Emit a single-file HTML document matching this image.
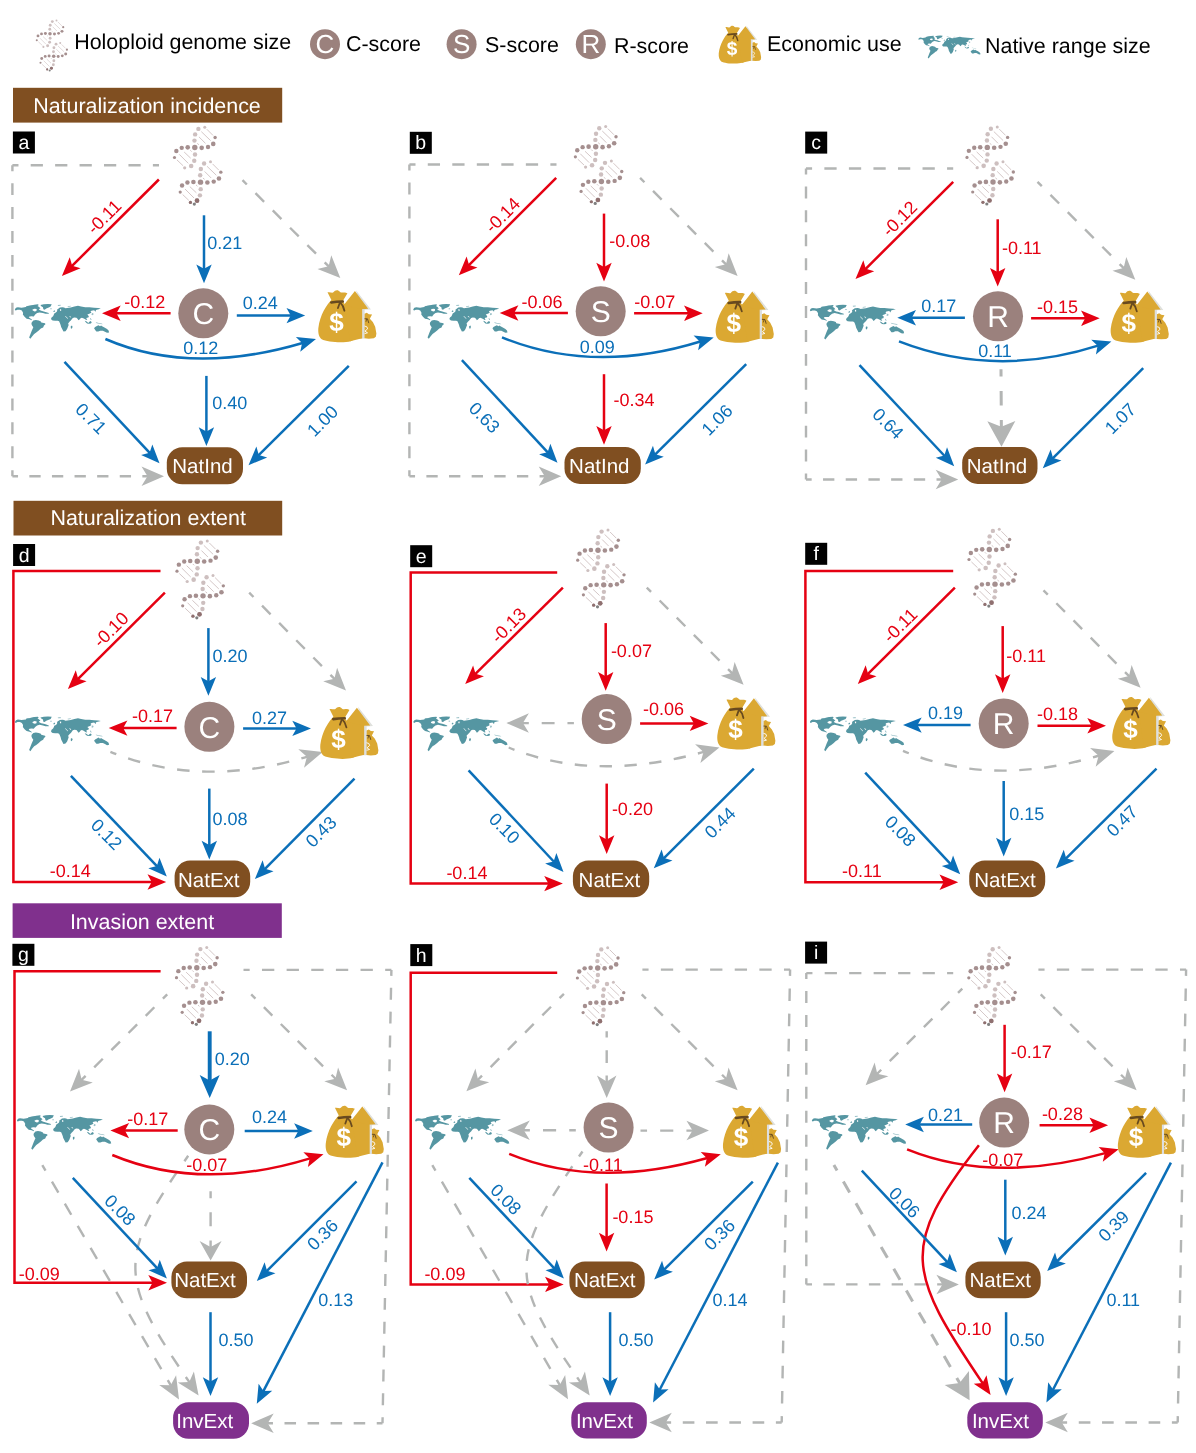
<!DOCTYPE html>
<html><head><meta charset="utf-8"><title>SEM path diagrams</title>
<style>
html,body{margin:0;padding:0;background:#fff;}
body{width:1196px;height:1453px;overflow:hidden;}
svg{display:block;font-family:'Liberation Sans', sans-serif;will-change:transform;opacity:0.9999;}
text{text-rendering:geometricPrecision;}
</style></head><body>
<svg width="1196" height="1453" viewBox="0 0 1196 1453">
<defs><g id="dnaunit"><line x1="12.05" y1="-18.24" x2="18.24" y2="-12.05" stroke="#c9b9b9" stroke-width="0.8"/><line x1="6.54" y1="-15.83" x2="15.83" y2="-6.88" stroke="#c9b9b9" stroke-width="0.8"/><line x1="4.13" y1="-10.67" x2="10.67" y2="-4.13" stroke="#c9b9b9" stroke-width="0.8"/><line x1="2.41" y1="-4.13" x2="4.13" y2="-2.75" stroke="#c9b9b9" stroke-width="0.8"/><line x1="-4.48" y1="2.75" x2="-3.1" y2="4.13" stroke="#c9b9b9" stroke-width="0.8"/><line x1="-10.67" y1="4.48" x2="-4.13" y2="10.67" stroke="#c9b9b9" stroke-width="0.8"/><line x1="-15.49" y1="6.88" x2="-6.54" y2="15.83" stroke="#c9b9b9" stroke-width="0.8"/><line x1="-17.9" y1="12.39" x2="-11.7" y2="18.24" stroke="#c9b9b9" stroke-width="0.8"/><circle cx="9.98" cy="-20.31" r="1.5" fill="#cdbfbf"/><circle cx="3.58" cy="-18.59" r="2.2" fill="#cdbfbf"/><circle cx="0.34" cy="-13.08" r="2.2" fill="#cdbfbf"/><circle cx="-0.34" cy="-6.88" r="2.2" fill="#cdbfbf"/><circle cx="0" cy="0" r="2.7" fill="#a58f8f"/><circle cx="-7.09" cy="-0.14" r="2.3" fill="#a58f8f"/><circle cx="-13.08" cy="0.34" r="2.2" fill="#a58f8f"/><circle cx="-18.45" cy="3.44" r="2.2" fill="#a58f8f"/><circle cx="-20.31" cy="9.98" r="1.6" fill="#a58f8f"/><circle cx="6.88" cy="0.34" r="2.3" fill="#a58f8f"/><circle cx="13.22" cy="-0.55" r="2.2" fill="#a58f8f"/><circle cx="18.45" cy="-3.58" r="2.3" fill="#a58f8f"/><circle cx="20.31" cy="-9.98" r="1.7" fill="#a58f8f"/><circle cx="0.21" cy="7.02" r="2.2" fill="#cdbfbf"/><circle cx="-0.55" cy="13.22" r="2.2" fill="#cdbfbf"/><circle cx="-3.65" cy="18.45" r="2.3" fill="#cdbfbf"/><circle cx="-10.12" cy="20.31" r="1.6" fill="#cdbfbf"/></g><g id="dna"><use href="#dnaunit"/><use href="#dnaunit" x="5.71" y="34.63"/><circle cx="2.27" cy="53.15" r="2.3" fill="#8f7070"/><circle cx="-4.34" cy="54.94" r="1.6" fill="#8f7070"/><circle cx="-0.48" cy="56.59" r="1.6" fill="#808080"/></g><g id="map"><g fill="#5596a2"><path d="M-0.07 5.99L0.97 4.52L2.85 3.9L6.62 4.4L10.8 3.69L11.63 2.85L14.56 2.43L19.16 1.39L22.92 0.97L23.76 1.81L22.5 2.64L24.17 3.69L25.43 5.15L23.76 5.78L24.59 6.82L26.26 7.45L28.77 8.08L31.28 8.91L33.79 9.75L33.79 10.5L30.44 10.5L27.94 9.75L24.59 9.12L22.08 9.75L20.2 11.21L18.74 13.09L16.65 12.89L14.56 13.09L13.72 13.93L15.39 15.18L16.86 16.23L16.65 16.86L14.56 16.02L11.63 15.39L9.54 13.51L7.87 11.21L8.08 9.33L6.82 7.24L4.94 6.41L2.43 6.41L0.76 7.24L-0.07 6.61Z"/><path d="M25.43 1.81L28.77 0.97L32.95 0.68L36.72 0.97L35.67 3.27L33.79 4.11L31.28 5.15L29.61 6.41L28.35 5.99L27.94 3.9L26.26 2.85Z"/><path d="M16.65 19.16L18.32 17.28L20.83 16.77L23.76 17.28L25.85 18.11L26.26 19.16L30.03 19.99L30.44 21.04L28.98 22.29L28.15 24.17L25.85 25.22L23.76 27.31L21.25 29.19L19.16 30.65L17.07 33.16L15.39 35.46L14.14 34.21L15.39 31.07L16.65 27.73L18.32 23.96L17.07 22.29L16.44 20.62Z"/><path d="M38.11 8.28L39.41 6.88L40.18 7.92L39.15 8.8Z"/><path d="M36.04 15.44L36.56 14.14L38.11 12.84L38.89 11.29L39.25 10.15L40.44 9.47L41.74 8.44L42.26 7.4L42 6.36L43.29 5.33L44.85 4.29L47.44 3.93L49 4.29L50.55 5.07L52.11 4.81L55.74 4.29L59.36 3.25L62.99 2.48L66.1 3.25L70.25 3.93L74.4 4.03L79.06 4.45L83.21 4.81L85.8 5.22L83.73 5.85L81.66 6.36L80.88 6.88L80.62 8.44L79.69 7.4L79.06 6.88L76.47 7.4L75.44 8.18L76.47 9.22L74.92 10.25L73.62 10.77L72.33 11.29L73.88 12.84L73.36 14.14L71.81 14.4L71.29 15.44L72.33 16.21L71.29 16.73L69.73 15.7L68.18 14.92L66.88 14.4L65.59 14.92L64.81 15.95L63.51 16.99L62.48 15.44L61.44 14.4L59.36 14.14L57.81 14.66L56.77 15.95L55.84 17.2L54.7 18.29L53.14 20.1L53.66 21.66L52.88 23.73L52.11 25.8L50.55 27.88L48.48 28.29L47.44 26.32L46.15 23.73L45.63 21.66L44.85 19.58L44.07 18.03L42.78 17.51L40.18 17.51L37.59 17.25L36.3 16.21Z"/><path d="M55.74 22.95L57.03 22.18L57.55 23.73L56.77 25.54L55.84 25.03Z"/><path d="M69.73 17.51L71.29 18.03L73.36 19.58L74.4 18.55L75.69 17.77L76.73 19.06L75.95 20.1L73.88 20.36L72.07 20.1L70.77 19.06Z"/><path d="M79.06 25.03L80.1 23.73L81.92 22.69L83.47 21.92L85.03 22.95L86.06 22.18L87.1 22.95L89.43 24.25L92.02 25.8L93.58 27.1L94.1 29.17L92.02 29.43L89.95 28.4L87.88 27.36L85.29 27.36L83.21 28.14L81.4 28.14L80.36 26.84Z"/><path d="M75.18 14.66L75.95 15.18L76.47 16.73L75.69 16.47Z"/></g><g fill="#5596a2" opacity="0.6"><path d="M35.25 4.94L36.72 4.94L36.72 5.99L35.25 5.99Z"/><path d="M42.78 1.81L45.7 1.39L45.7 2.43L42.99 2.64Z"/><path d="M52.63 2.99L55.74 2.48L55.74 3.25L52.88 3.77Z"/><path d="M76.99 9.73L78.29 9.99L78.55 11.29L77.25 12.07L76.47 11.55Z"/><path d="M80.62 18.81L83.73 19.58L86.84 20.1L87.88 20.88L85.29 20.62L81.66 19.84Z"/><path d="M11.21 3.06L14.56 2.23L18.74 1.6L20.41 2.02L19.58 3.69L16.23 4.11L11.63 3.69Z"/></g><g fill="#fff"><path d="M17.48 6.2L19.58 5.36L21.67 5.78L21.46 7.66L19.78 8.08L17.69 7.24Z"/><path d="M50.03 12.84L50.55 12.58L53.14 15.18L52.63 15.54Z"/><path d="M54.18 12.84L54.96 12.58L56.25 13.88L55.74 14.3Z"/><path d="M44.85 6L46.15 5.85L46.15 7.66L45.11 7.56Z"/></g></g><g id="money"><path d="M37.99 0.13L52.98 19.4L46.49 19.73L46.49 48.49L38.8 48.49L38.8 3.34Z" fill="#dfe0dc"/><path d="M46.49 23.75L48.83 22.74L50.84 24.21L54.05 24.62L51.84 28.76L54.85 32.11L57.19 36.79L58.39 43.48L57.86 46.82L55.85 48.29L50.84 48.7L46.29 48.29Z" fill="#dba832"/><path d="M46.69 28.76L49.5 28.9L50.7 32.78" stroke="#5f4520" stroke-width="0.9" stroke-linecap="round" stroke-linejoin="round" fill="none"/><path d="M48.7 29.1L48.03 31.44" stroke="#5f4520" stroke-width="0.8" stroke-linecap="round" stroke-linejoin="round" fill="none"/><path d="M46.69 36.12L48.83 36.79L49.63 38.8L46.96 41.14L49.5 42.81L46.96 43.48" stroke="#fff" stroke-width="0.9" stroke-linecap="round" stroke-linejoin="round" fill="none"/><path d="M36.92 1L50.17 18.86L44.15 19.13L44.15 48.16L29.43 48.16L29.43 19.13L23.41 18.06Z" fill="#dba832"/><path d="M44.15 19.4L46.29 19.4L46.29 48.16L44.15 48.16Z" fill="#dddfe0"/><path d="M13.38 10.03 C8.7 14.72 2.01 24.75 0.33 38.13 C-0.13 43.48 1.34 47.49 3.68 49.16 C9.36 52.17 25.42 53.18 32.78 51.17 C35.45 50.17 37.46 48.83 38.13 47.49 C40.13 36.79 34.78 20.07 25.75 13.04 L25.42 10.03 C21.4 9.36 17.39 9.36 13.38 10.03 Z" fill="#dba832"/><path d="M26.76 15.38L44.15 19.13L44.15 48.16L32.11 51.17Z" fill="#dba832"/><path d="M9.5 2.34 C12.04 1.67 14.05 3.34 15.38 2.34 C17.06 0 20.07 -0.67 22.07 2.01 C24.08 3.34 26.76 1.34 29.43 3.34 L25.28 10.37 L13.51 10.37 Z" fill="#dba832"/><path d="M29.77 4.82L31.3 6.35L26.89 12.37L25.28 10.84Z" fill="#fff"/><path d="M13.24 12.44L18.73 11.77L24.75 11.51" stroke="#684a1f" stroke-width="2.6" stroke-linecap="round" stroke-linejoin="round" fill="none"/><path d="M22.07 12.37 Q25.42 15.38 26.42 20.74" stroke="#684a1f" stroke-width="1.8" stroke-linecap="round" fill="none"/><path d="M21.74 13.04L19.93 18.06" stroke="#684a1f" stroke-width="1.8" stroke-linecap="round" stroke-linejoin="round" fill="none"/><text x="18.39" y="40.94" font-size="26" font-weight="bold" fill="#fff" text-anchor="middle">$</text></g></defs>
<rect width="1196" height="1453" fill="#fff"/>
<use href="#dna" transform="translate(50 33.7) scale(0.65)"/>
<text x="74.2" y="49.2" font-size="21.45" fill="#000" text-anchor="start">Holoploid genome size</text>
<circle cx="325" cy="44.2" r="15" fill="#9b817d"/>
<text x="325" y="53.3" font-size="26" fill="#fff" text-anchor="middle">C</text>
<text x="346" y="50.7" font-size="21.45" fill="#000" text-anchor="start">C-score</text>
<circle cx="461.6" cy="44.2" r="15" fill="#9b817d"/>
<text x="461.6" y="53.3" font-size="26" fill="#fff" text-anchor="middle">S</text>
<text x="485" y="52.4" font-size="21.45" fill="#000" text-anchor="start">S-score</text>
<circle cx="590.8" cy="44.2" r="15" fill="#9b817d"/>
<text x="590.8" y="53.3" font-size="26" fill="#fff" text-anchor="middle">R</text>
<text x="614" y="52.9" font-size="21.45" fill="#000" text-anchor="start">R-score</text>
<use href="#money" transform="translate(718.5 25.5) scale(0.73)"/>
<text x="767" y="51.2" font-size="21.45" fill="#000" text-anchor="start">Economic use</text>
<use href="#map" transform="translate(918.4 35) scale(0.66)"/>
<text x="985" y="52.6" font-size="21.45" fill="#000" text-anchor="start">Native range size</text>
<rect x="13" y="87.8" width="269.2" height="34.8" fill="#804f21"/>
<text x="147" y="112.7" font-size="21.45" fill="#fff" text-anchor="middle">Naturalization incidence</text>
<rect x="13.5" y="500.8" width="268.7" height="34.7" fill="#804f21"/>
<text x="148.2" y="525.35" font-size="21.45" fill="#fff" text-anchor="middle">Naturalization extent</text>
<rect x="12.6" y="903.3" width="269.2" height="34.6" fill="#80308d"/>
<text x="142" y="929" font-size="21.45" fill="#fff" text-anchor="middle">Invasion extent</text>
<rect x="12.9" y="131.5" width="22" height="22" fill="#000"/>
<text x="23.9" y="149.1" font-size="19.5" fill="#fff" text-anchor="middle">a</text>
<path d="M159 165.2L12.4 165.2" stroke="#b3b5b4" stroke-width="2.4" fill="none" stroke-dasharray="12.22 12.22" stroke-dashoffset="6.11"/>
<path d="M12.4 165.2L12.4 476.2" stroke="#b3b5b4" stroke-width="2.4" fill="none" stroke-dasharray="11.96 11.96" stroke-dashoffset="5.98"/>
<path d="M12.4 476.2L148 476.2" stroke="#b3b5b4" stroke-width="2.4" fill="none" stroke-dasharray="11.3 11.3" stroke-dashoffset="5.65"/>
<path d="M164 476.2L141.5 466.45L147.5 476.2L141.5 485.95Z" fill="#b3b5b4"/>
<path d="M158.9 179.5L71.83 266.13" stroke="#e50012" stroke-width="2.5" fill="none"/>
<path d="M61.9 276L80.59 268.27L72.18 265.77L69.73 257.35Z" fill="#e50012"/>
<path d="M204 215.3L204 269.2" stroke="#0b6fb8" stroke-width="2.5" fill="none"/>
<path d="M204 283.2L211.7 264.5L204 268.7L196.3 264.5Z" fill="#0b6fb8"/>
<path d="M242.5 180.2L328.99 266.69" stroke="#b3b5b4" stroke-width="2.4" fill="none" stroke-dasharray="12.23 12.23" stroke-dashoffset="6.12"/>
<path d="M340.3 278L331.28 255.2L328.63 266.33L317.5 268.98Z" fill="#b3b5b4"/>
<path d="M170.6 313.3L116 313.3" stroke="#e50012" stroke-width="2.5" fill="none"/>
<path d="M102 313.3L120.7 321L116.5 313.3L120.7 305.6Z" fill="#e50012"/>
<path d="M236.8 315.6L291.2 315.6" stroke="#0b6fb8" stroke-width="2.5" fill="none"/>
<path d="M305.2 315.6L286.5 307.9L290.7 315.6L286.5 323.3Z" fill="#0b6fb8"/>
<path d="M105.4 339Q190.7 376 302.57 342.96" stroke="#0b6fb8" stroke-width="2.5" fill="none"/>
<path d="M316 339L295.88 336.91L302.09 343.11L300.25 351.68Z" fill="#0b6fb8"/>
<path d="M64.5 361.8L149.93 453.08" stroke="#0b6fb8" stroke-width="2.5" fill="none"/>
<path d="M159.5 463.3L152.34 444.39L149.59 452.71L141.1 454.91Z" fill="#0b6fb8"/>
<path d="M206.4 375.9L206.4 432" stroke="#0b6fb8" stroke-width="2.5" fill="none"/>
<path d="M206.4 446L214.1 427.3L206.4 431.5L198.7 427.3Z" fill="#0b6fb8"/>
<path d="M348.8 365.8L258.44 455.35" stroke="#0b6fb8" stroke-width="2.5" fill="none"/>
<path d="M248.5 465.2L267.2 457.51L258.8 454.99L256.36 446.57Z" fill="#0b6fb8"/>
<rect x="166.8" y="447.3" width="76.2" height="36.9" rx="15.5" ry="15.5" fill="#804f21"/>
<text x="172.3" y="473.35" font-size="20.5" fill="#fff">NatInd</text>
<circle cx="203.3" cy="313.3" r="25" fill="#9b817d"/>
<text x="203.3" y="324.04" font-size="30" fill="#fff" text-anchor="middle">C</text>
<use href="#dna" transform="translate(194.8 147.5) scale(1)"/>
<use href="#map" transform="translate(15 303.3) scale(1)"/>
<use href="#money" transform="translate(318 290) scale(1)"/>
<text x="104.3" y="217" font-size="18" fill="#e50012" text-anchor="middle" dominant-baseline="central" transform="rotate(-45 104.3 217)">-0.11</text>
<text x="224.7" y="243" font-size="18" fill="#0b6fb8" text-anchor="middle" dominant-baseline="central">0.21</text>
<text x="144.8" y="302.3" font-size="18" fill="#e50012" text-anchor="middle" dominant-baseline="central">-0.12</text>
<text x="260.2" y="303.3" font-size="18" fill="#0b6fb8" text-anchor="middle" dominant-baseline="central">0.24</text>
<text x="200.7" y="348" font-size="18" fill="#0b6fb8" text-anchor="middle" dominant-baseline="central">0.12</text>
<text x="91" y="418.7" font-size="18" fill="#0b6fb8" text-anchor="middle" dominant-baseline="central" transform="rotate(45 91 418.7)">0.71</text>
<text x="229.8" y="403.3" font-size="18" fill="#0b6fb8" text-anchor="middle" dominant-baseline="central">0.40</text>
<text x="322.7" y="421" font-size="18" fill="#0b6fb8" text-anchor="middle" dominant-baseline="central" transform="rotate(-45 322.7 421)">1.00</text>
<rect x="409.8" y="131.8" width="22" height="22" fill="#000"/>
<text x="420.8" y="149.4" font-size="19.5" fill="#fff" text-anchor="middle">b</text>
<path d="M556.5 164.5L409.4 164.5" stroke="#b3b5b4" stroke-width="2.4" fill="none" stroke-dasharray="12.26 12.26" stroke-dashoffset="6.13"/>
<path d="M409.4 164.5L409.4 476.2" stroke="#b3b5b4" stroke-width="2.4" fill="none" stroke-dasharray="11.99 11.99" stroke-dashoffset="5.99"/>
<path d="M409.4 476.2L545.2 476.2" stroke="#b3b5b4" stroke-width="2.4" fill="none" stroke-dasharray="11.32 11.32" stroke-dashoffset="5.66"/>
<path d="M561.2 476.2L538.7 466.45L544.7 476.2L538.7 485.95Z" fill="#b3b5b4"/>
<path d="M556.2 177.9L468.7 265.31" stroke="#e50012" stroke-width="2.5" fill="none"/>
<path d="M458.8 275.2L477.47 267.43L469.06 264.95L466.59 256.54Z" fill="#e50012"/>
<path d="M604 213.6L604 267.5" stroke="#e50012" stroke-width="2.5" fill="none"/>
<path d="M604 281.5L611.7 262.8L604 267L596.3 262.8Z" fill="#e50012"/>
<path d="M640.1 177.9L726.32 264.65" stroke="#b3b5b4" stroke-width="2.4" fill="none" stroke-dasharray="12.23 12.23" stroke-dashoffset="6.12"/>
<path d="M737.6 276L728.65 253.17L725.97 264.3L714.82 266.91Z" fill="#b3b5b4"/>
<path d="M567.9 313L513.7 313" stroke="#e50012" stroke-width="2.5" fill="none"/>
<path d="M499.7 313L518.4 320.7L514.2 313L518.4 305.3Z" fill="#e50012"/>
<path d="M634.1 313.3L688.7 313.3" stroke="#e50012" stroke-width="2.5" fill="none"/>
<path d="M702.7 313.3L684 305.6L688.2 313.3L684 321Z" fill="#e50012"/>
<path d="M502 337.4Q593.55 374.6 700.33 341.54" stroke="#0b6fb8" stroke-width="2.5" fill="none"/>
<path d="M713.7 337.4L693.56 335.58L699.85 341.69L698.11 350.29Z" fill="#0b6fb8"/>
<path d="M461.9 360.1L547.96 452.55" stroke="#0b6fb8" stroke-width="2.5" fill="none"/>
<path d="M557.5 462.8L550.39 443.87L547.62 452.19L539.12 454.36Z" fill="#0b6fb8"/>
<path d="M604 374.2L604 430.7" stroke="#e50012" stroke-width="2.5" fill="none"/>
<path d="M604 444.7L611.7 426L604 430.2L596.3 426Z" fill="#e50012"/>
<path d="M746.2 364.1L655.03 454.63" stroke="#0b6fb8" stroke-width="2.5" fill="none"/>
<path d="M645.1 464.5L663.79 456.79L655.39 454.28L652.94 445.86Z" fill="#0b6fb8"/>
<rect x="564.5" y="447.1" width="76.3" height="36.8" rx="15.5" ry="15.5" fill="#804f21"/>
<text x="569.1" y="473.1" font-size="20.5" fill="#fff">NatInd</text>
<circle cx="600.7" cy="311.3" r="25" fill="#9b817d"/>
<text x="600.7" y="322.04" font-size="30" fill="#fff" text-anchor="middle">S</text>
<use href="#dna" transform="translate(595.7 146.8) scale(1)"/>
<use href="#map" transform="translate(413.4 303.3) scale(1)"/>
<use href="#money" transform="translate(715.4 290.6) scale(1)"/>
<text x="502.7" y="215.3" font-size="18" fill="#e50012" text-anchor="middle" dominant-baseline="central" transform="rotate(-45 502.7 215.3)">-0.14</text>
<text x="629.8" y="241.1" font-size="18" fill="#e50012" text-anchor="middle" dominant-baseline="central">-0.08</text>
<text x="542.1" y="301.6" font-size="18" fill="#e50012" text-anchor="middle" dominant-baseline="central">-0.06</text>
<text x="654.8" y="301.6" font-size="18" fill="#e50012" text-anchor="middle" dominant-baseline="central">-0.07</text>
<text x="597.3" y="346.8" font-size="18" fill="#0b6fb8" text-anchor="middle" dominant-baseline="central">0.09</text>
<text x="484.3" y="417.7" font-size="18" fill="#0b6fb8" text-anchor="middle" dominant-baseline="central" transform="rotate(45 484.3 417.7)">0.63</text>
<text x="634.1" y="399.9" font-size="18" fill="#e50012" text-anchor="middle" dominant-baseline="central">-0.34</text>
<text x="717.1" y="420" font-size="18" fill="#0b6fb8" text-anchor="middle" dominant-baseline="central" transform="rotate(-45 717.1 420)">1.06</text>
<rect x="805.2" y="131.6" width="22" height="22" fill="#000"/>
<text x="816.2" y="149.2" font-size="19.5" fill="#fff" text-anchor="middle">c</text>
<path d="M953.2 168.5L806 168.5" stroke="#b3b5b4" stroke-width="2.4" fill="none" stroke-dasharray="12.27 12.27" stroke-dashoffset="6.13"/>
<path d="M806 168.5L806 479.5" stroke="#b3b5b4" stroke-width="2.4" fill="none" stroke-dasharray="11.96 11.96" stroke-dashoffset="5.98"/>
<path d="M806 479.5L942.2 479.5" stroke="#b3b5b4" stroke-width="2.4" fill="none" stroke-dasharray="11.35 11.35" stroke-dashoffset="5.68"/>
<path d="M958.2 479.5L935.7 469.75L941.7 479.5L935.7 489.25Z" fill="#b3b5b4"/>
<path d="M953.2 181.9L865.44 269.04" stroke="#e50012" stroke-width="2.5" fill="none"/>
<path d="M855.5 278.9L874.2 271.19L865.79 268.68L863.35 260.26Z" fill="#e50012"/>
<path d="M997.7 219.3L997.7 272.6" stroke="#e50012" stroke-width="2.5" fill="none"/>
<path d="M997.7 286.6L1005.4 267.9L997.7 272.1L990 267.9Z" fill="#e50012"/>
<path d="M1037.5 181.9L1123.99 268.39" stroke="#b3b5b4" stroke-width="2.4" fill="none" stroke-dasharray="12.23 12.23" stroke-dashoffset="6.12"/>
<path d="M1135.3 279.7L1126.28 256.9L1123.63 268.03L1112.5 270.68Z" fill="#b3b5b4"/>
<path d="M964.9 317.7L911.3 317.7" stroke="#0b6fb8" stroke-width="2.5" fill="none"/>
<path d="M897.3 317.7L916 325.4L911.8 317.7L916 310Z" fill="#0b6fb8"/>
<path d="M1031.1 318.3L1085.7 318.3" stroke="#e50012" stroke-width="2.5" fill="none"/>
<path d="M1099.7 318.3L1081 310.6L1085.2 318.3L1081 326Z" fill="#e50012"/>
<path d="M899 341.4Q994.8 378.6 1098.06 345.66" stroke="#0b6fb8" stroke-width="2.5" fill="none"/>
<path d="M1111.4 341.4L1091.24 339.75L1097.59 345.81L1095.93 354.42Z" fill="#0b6fb8"/>
<path d="M859.5 365.2L944.62 455.99" stroke="#0b6fb8" stroke-width="2.5" fill="none"/>
<path d="M954.2 466.2L947.03 447.29L944.28 455.62L935.79 457.83Z" fill="#0b6fb8"/>
<path d="M1001 369.2L1001.37 427.2" stroke="#b3b5b4" stroke-width="3.0" fill="none" stroke-dasharray="14.5 14.5" stroke-dashoffset="7.25"/>
<path d="M1001.5 446.7L1015.33 421.01L1001.37 426.7L987.34 421.19Z" fill="#b3b5b4"/>
<path d="M1143.2 368.2L1052.72 458.32" stroke="#0b6fb8" stroke-width="2.5" fill="none"/>
<path d="M1042.8 468.2L1061.48 460.46L1053.07 457.97L1050.62 449.55Z" fill="#0b6fb8"/>
<rect x="962.2" y="447.1" width="75.3" height="36.8" rx="15.5" ry="15.5" fill="#804f21"/>
<text x="966.8" y="473.1" font-size="20.5" fill="#fff">NatInd</text>
<circle cx="998" cy="316.3" r="25" fill="#9b817d"/>
<text x="998" y="327.04" font-size="30" fill="#fff" text-anchor="middle">R</text>
<use href="#dna" transform="translate(987.3 147.4) scale(1)"/>
<use href="#map" transform="translate(810 304) scale(1)"/>
<use href="#money" transform="translate(1110.4 290.6) scale(1)"/>
<text x="899.7" y="218.7" font-size="18" fill="#e50012" text-anchor="middle" dominant-baseline="central" transform="rotate(-45 899.7 218.7)">-0.12</text>
<text x="1021.8" y="247.8" font-size="18" fill="#e50012" text-anchor="middle" dominant-baseline="central">-0.11</text>
<text x="938.8" y="305.6" font-size="18" fill="#0b6fb8" text-anchor="middle" dominant-baseline="central">0.17</text>
<text x="1057.5" y="306.6" font-size="18" fill="#e50012" text-anchor="middle" dominant-baseline="central">-0.15</text>
<text x="995" y="351.4" font-size="18" fill="#0b6fb8" text-anchor="middle" dominant-baseline="central">0.11</text>
<text x="888" y="423.7" font-size="18" fill="#0b6fb8" text-anchor="middle" dominant-baseline="central" transform="rotate(45 888 423.7)">0.64</text>
<text x="1120.4" y="418.7" font-size="18" fill="#0b6fb8" text-anchor="middle" dominant-baseline="central" transform="rotate(-45 1120.4 418.7)">1.07</text>
<rect x="13.1" y="544" width="22" height="22" fill="#000"/>
<text x="24.1" y="561.6" font-size="19.5" fill="#fff" text-anchor="middle">d</text>
<path d="M160.5 570.9L13.4 570.9L13.4 882L152.2 882" stroke="#e50012" stroke-width="2.5" fill="none" stroke-linejoin="miter"/>
<path d="M166.2 882L147.5 874.3L151.7 882L147.5 889.7Z" fill="#e50012"/>
<path d="M164.9 592.7L77.84 679.14" stroke="#e50012" stroke-width="2.5" fill="none"/>
<path d="M67.9 689L86.6 681.29L78.19 678.78L75.75 670.36Z" fill="#e50012"/>
<path d="M208.4 628.1L208.4 681.7" stroke="#0b6fb8" stroke-width="2.5" fill="none"/>
<path d="M208.4 695.7L216.1 677L208.4 681.2L200.7 677Z" fill="#0b6fb8"/>
<path d="M249.2 592.7L334.74 679.13" stroke="#b3b5b4" stroke-width="2.4" fill="none" stroke-dasharray="12.16 12.16" stroke-dashoffset="6.08"/>
<path d="M346 690.5L337.1 667.65L334.39 678.77L323.24 681.37Z" fill="#b3b5b4"/>
<path d="M176.6 728.1L122.7 728.1" stroke="#e50012" stroke-width="2.5" fill="none"/>
<path d="M108.7 728.1L127.4 735.8L123.2 728.1L127.4 720.4Z" fill="#e50012"/>
<path d="M243.1 728.4L297 728.4" stroke="#0b6fb8" stroke-width="2.5" fill="none"/>
<path d="M311 728.4L292.3 720.7L296.5 728.4L292.3 736.1Z" fill="#0b6fb8"/>
<path d="M110.4 751.9Q201.45 788.9 307.4 756.57" stroke="#b3b5b4" stroke-width="2.4" fill="none" stroke-dasharray="12.57 12.57" stroke-dashoffset="6.28"/>
<path d="M322.7 751.9L298.33 749.14L306.92 756.72L304.03 767.79Z" fill="#b3b5b4"/>
<path d="M70.9 775.9L157.15 866.46" stroke="#0b6fb8" stroke-width="2.5" fill="none"/>
<path d="M166.8 876.6L159.48 857.75L156.8 866.1L148.33 868.37Z" fill="#0b6fb8"/>
<path d="M209.3 788.6L209.3 845.5" stroke="#0b6fb8" stroke-width="2.5" fill="none"/>
<path d="M209.3 859.5L217 840.8L209.3 845L201.6 840.8Z" fill="#0b6fb8"/>
<path d="M354.5 778.6L264.76 869.06" stroke="#0b6fb8" stroke-width="2.5" fill="none"/>
<path d="M254.9 879L273.54 871.15L265.11 868.71L262.6 860.3Z" fill="#0b6fb8"/>
<rect x="174.6" y="860.6" width="75.6" height="36.7" rx="15.5" ry="15.5" fill="#804f21"/>
<text x="178" y="886.55" font-size="20.5" fill="#fff">NatExt</text>
<circle cx="209.4" cy="726.8" r="25" fill="#9b817d"/>
<text x="209.4" y="737.54" font-size="30" fill="#fff" text-anchor="middle">C</text>
<use href="#dna" transform="translate(197.3 561.2) scale(1)"/>
<use href="#map" transform="translate(15 715.7) scale(1)"/>
<use href="#money" transform="translate(320 706.7) scale(1)"/>
<text x="111" y="629.8" font-size="18" fill="#e50012" text-anchor="middle" dominant-baseline="central" transform="rotate(-45 111 629.8)">-0.10</text>
<text x="230.1" y="656.2" font-size="18" fill="#0b6fb8" text-anchor="middle" dominant-baseline="central">0.20</text>
<text x="152.5" y="715.7" font-size="18" fill="#e50012" text-anchor="middle" dominant-baseline="central">-0.17</text>
<text x="269.6" y="718.4" font-size="18" fill="#0b6fb8" text-anchor="middle" dominant-baseline="central">0.27</text>
<text x="106.4" y="834.5" font-size="18" fill="#0b6fb8" text-anchor="middle" dominant-baseline="central" transform="rotate(45 106.4 834.5)">0.12</text>
<text x="230.1" y="819.4" font-size="18" fill="#0b6fb8" text-anchor="middle" dominant-baseline="central">0.08</text>
<text x="321.1" y="831.8" font-size="18" fill="#0b6fb8" text-anchor="middle" dominant-baseline="central" transform="rotate(-45 321.1 831.8)">0.43</text>
<text x="70.2" y="871.3" font-size="18" fill="#e50012" text-anchor="middle" dominant-baseline="central">-0.14</text>
<rect x="410.2" y="545.2" width="22" height="22" fill="#000"/>
<text x="421.2" y="562.8" font-size="19.5" fill="#fff" text-anchor="middle">e</text>
<path d="M557.2 572.6L410.7 572.6L410.7 883.6L548.9 883.6" stroke="#e50012" stroke-width="2.5" fill="none" stroke-linejoin="miter"/>
<path d="M562.9 883.6L544.2 875.9L548.4 883.6L544.2 891.3Z" fill="#e50012"/>
<path d="M562.9 587.6L475.17 674.17" stroke="#e50012" stroke-width="2.5" fill="none"/>
<path d="M465.2 684L483.92 676.35L475.52 673.82L473.1 665.38Z" fill="#e50012"/>
<path d="M605.7 623.1L605.7 676.7" stroke="#e50012" stroke-width="2.5" fill="none"/>
<path d="M605.7 690.7L613.4 672L605.7 676.2L598 672Z" fill="#e50012"/>
<path d="M646.8 587.6L732.31 673.46" stroke="#b3b5b4" stroke-width="2.4" fill="none" stroke-dasharray="12.12 12.12" stroke-dashoffset="6.06"/>
<path d="M743.6 684.8L734.63 661.98L731.96 673.11L720.81 675.74Z" fill="#b3b5b4"/>
<path d="M573.9 723.1L522.4 723.1" stroke="#b3b5b4" stroke-width="2.4" fill="none" stroke-dasharray="12.88 12.88" stroke-dashoffset="6.44"/>
<path d="M506.4 723.1L528.9 732.85L522.9 723.1L528.9 713.35Z" fill="#b3b5b4"/>
<path d="M640.1 723.4L694.4 723.4" stroke="#e50012" stroke-width="2.5" fill="none"/>
<path d="M708.4 723.4L689.7 715.7L693.9 723.4L689.7 731.1Z" fill="#e50012"/>
<path d="M508.7 747.5Q593.95 782.7 703.99 751.82" stroke="#b3b5b4" stroke-width="2.4" fill="none" stroke-dasharray="12.44 12.44" stroke-dashoffset="6.22"/>
<path d="M719.4 747.5L695.1 744.19L703.51 751.96L700.37 762.97Z" fill="#b3b5b4"/>
<path d="M468.6 770.3L553.95 861.76" stroke="#0b6fb8" stroke-width="2.5" fill="none"/>
<path d="M563.5 872L556.37 853.07L553.61 861.4L545.11 863.58Z" fill="#0b6fb8"/>
<path d="M606.7 783.6L606.7 839.9" stroke="#e50012" stroke-width="2.5" fill="none"/>
<path d="M606.7 853.9L614.4 835.2L606.7 839.4L599 835.2Z" fill="#e50012"/>
<path d="M753.8 768.6L663.72 858.32" stroke="#0b6fb8" stroke-width="2.5" fill="none"/>
<path d="M653.8 868.2L672.48 860.46L664.07 857.97L661.62 849.55Z" fill="#0b6fb8"/>
<rect x="572.9" y="860.6" width="76.3" height="36.7" rx="15.5" ry="15.5" fill="#804f21"/>
<text x="578.6" y="886.55" font-size="20.5" fill="#fff">NatExt</text>
<circle cx="606.7" cy="719.1" r="25" fill="#9b817d"/>
<text x="606.7" y="729.84" font-size="30" fill="#fff" text-anchor="middle">S</text>
<use href="#dna" transform="translate(598 550.2) scale(1)"/>
<use href="#map" transform="translate(413.4 715.7) scale(1)"/>
<use href="#money" transform="translate(717 697.3) scale(1)"/>
<text x="508.7" y="625.4" font-size="18" fill="#e50012" text-anchor="middle" dominant-baseline="central" transform="rotate(-45 508.7 625.4)">-0.13</text>
<text x="631.4" y="651.2" font-size="18" fill="#e50012" text-anchor="middle" dominant-baseline="central">-0.07</text>
<text x="663.5" y="709" font-size="18" fill="#e50012" text-anchor="middle" dominant-baseline="central">-0.06</text>
<text x="632.4" y="809.4" font-size="18" fill="#e50012" text-anchor="middle" dominant-baseline="central">-0.20</text>
<text x="504.3" y="828.4" font-size="18" fill="#0b6fb8" text-anchor="middle" dominant-baseline="central" transform="rotate(45 504.3 828.4)">0.10</text>
<text x="720.1" y="822.8" font-size="18" fill="#0b6fb8" text-anchor="middle" dominant-baseline="central" transform="rotate(-45 720.1 822.8)">0.44</text>
<text x="466.9" y="872.9" font-size="18" fill="#e50012" text-anchor="middle" dominant-baseline="central">-0.14</text>
<rect x="805.2" y="542.8" width="22" height="22" fill="#000"/>
<text x="816.2" y="560.4" font-size="19.5" fill="#fff" text-anchor="middle">f</text>
<path d="M953.2 570.9L805.4 570.9L805.4 882.3L944.2 882.3" stroke="#e50012" stroke-width="2.5" fill="none" stroke-linejoin="miter"/>
<path d="M958.2 882.3L939.5 874.6L943.7 882.3L939.5 890Z" fill="#e50012"/>
<path d="M954.9 587.6L867.74 674.14" stroke="#e50012" stroke-width="2.5" fill="none"/>
<path d="M857.8 684L876.5 676.29L868.09 673.78L865.65 665.36Z" fill="#e50012"/>
<path d="M1002.7 626.1L1002.7 679" stroke="#e50012" stroke-width="2.5" fill="none"/>
<path d="M1002.7 693L1010.4 674.3L1002.7 678.5L995 674.3Z" fill="#e50012"/>
<path d="M1043.5 590.3L1129.31 676.46" stroke="#b3b5b4" stroke-width="2.4" fill="none" stroke-dasharray="12.16 12.16" stroke-dashoffset="6.08"/>
<path d="M1140.6 687.8L1131.63 664.98L1128.96 676.11L1117.81 678.74Z" fill="#b3b5b4"/>
<path d="M970.6 725.1L917 725.1" stroke="#0b6fb8" stroke-width="2.5" fill="none"/>
<path d="M903 725.1L921.7 732.8L917.5 725.1L921.7 717.4Z" fill="#0b6fb8"/>
<path d="M1037.5 725.8L1092 725.8" stroke="#e50012" stroke-width="2.5" fill="none"/>
<path d="M1106 725.8L1087.3 718.1L1091.5 725.8L1087.3 733.5Z" fill="#e50012"/>
<path d="M903 750.9Q991.3 787.9 1099.08 755.51" stroke="#b3b5b4" stroke-width="2.4" fill="none" stroke-dasharray="12.51 12.51" stroke-dashoffset="6.26"/>
<path d="M1114.4 750.9L1090.05 748.04L1098.6 755.65L1095.66 766.71Z" fill="#b3b5b4"/>
<path d="M865.2 772.6L950.64 864.07" stroke="#0b6fb8" stroke-width="2.5" fill="none"/>
<path d="M960.2 874.3L953.06 855.38L950.3 863.7L941.81 865.89Z" fill="#0b6fb8"/>
<path d="M1003.7 781L1003.7 842.5" stroke="#0b6fb8" stroke-width="2.5" fill="none"/>
<path d="M1003.7 856.5L1011.4 837.8L1003.7 842L996 837.8Z" fill="#0b6fb8"/>
<path d="M1156.5 768.6L1065.83 858.64" stroke="#0b6fb8" stroke-width="2.5" fill="none"/>
<path d="M1055.9 868.5L1074.59 860.79L1066.19 858.28L1063.74 849.86Z" fill="#0b6fb8"/>
<rect x="969.2" y="860.6" width="76" height="36.7" rx="15.5" ry="15.5" fill="#804f21"/>
<text x="974.3" y="886.55" font-size="20.5" fill="#fff">NatExt</text>
<circle cx="1003.7" cy="723.4" r="25" fill="#9b817d"/>
<text x="1003.7" y="734.14" font-size="30" fill="#fff" text-anchor="middle">R</text>
<use href="#dna" transform="translate(989.3 549.5) scale(1)"/>
<use href="#map" transform="translate(810 715.7) scale(1)"/>
<use href="#money" transform="translate(1112 696.7) scale(1)"/>
<text x="900.3" y="625.4" font-size="18" fill="#e50012" text-anchor="middle" dominant-baseline="central" transform="rotate(-45 900.3 625.4)">-0.11</text>
<text x="1026.1" y="656.2" font-size="18" fill="#e50012" text-anchor="middle" dominant-baseline="central">-0.11</text>
<text x="945.5" y="713.4" font-size="18" fill="#0b6fb8" text-anchor="middle" dominant-baseline="central">0.19</text>
<text x="1057.5" y="714.1" font-size="18" fill="#e50012" text-anchor="middle" dominant-baseline="central">-0.18</text>
<text x="1026.8" y="813.7" font-size="18" fill="#0b6fb8" text-anchor="middle" dominant-baseline="central">0.15</text>
<text x="900.3" y="831.1" font-size="18" fill="#0b6fb8" text-anchor="middle" dominant-baseline="central" transform="rotate(45 900.3 831.1)">0.08</text>
<text x="1122.1" y="821.1" font-size="18" fill="#0b6fb8" text-anchor="middle" dominant-baseline="central" transform="rotate(-45 1122.1 821.1)">0.47</text>
<text x="861.9" y="871.3" font-size="18" fill="#e50012" text-anchor="middle" dominant-baseline="central">-0.11</text>
<rect x="12.4" y="943.8" width="22" height="22" fill="#000"/>
<text x="23.4" y="961.4" font-size="19.5" fill="#fff" text-anchor="middle">g</text>
<path d="M160.6 971.2L14.5 971.2L14.5 1282.7L153 1282.7" stroke="#e50012" stroke-width="2.5" fill="none" stroke-linejoin="miter"/>
<path d="M167 1282.7L148.3 1275L152.5 1282.7L148.3 1290.4Z" fill="#e50012"/>
<path d="M243.5 969.9L391.4 969.9" stroke="#b3b5b4" stroke-width="2.4" fill="none" stroke-dasharray="12.32 12.32" stroke-dashoffset="6.16"/>
<path d="M391.4 969.9L382.5 1423.3" stroke="#b3b5b4" stroke-width="2.4" fill="none" stroke-dasharray="11.93 11.93" stroke-dashoffset="5.97"/>
<path d="M382.5 1423.3L267.2 1423.3" stroke="#b3b5b4" stroke-width="2.4" fill="none" stroke-dasharray="11.53 11.53" stroke-dashoffset="5.77"/>
<path d="M251.2 1423.3L273.7 1433.05L267.7 1423.3L273.7 1413.55Z" fill="#b3b5b4"/>
<path d="M167.2 994.4L81.32 1080.19" stroke="#b3b5b4" stroke-width="2.4" fill="none" stroke-dasharray="12.14 12.14" stroke-dashoffset="6.07"/>
<path d="M70 1091.5L92.81 1082.5L81.67 1079.84L79.03 1068.7Z" fill="#b3b5b4"/>
<path d="M209.7 1031.3L209.7 1080.9" stroke="#0b6fb8" stroke-width="3.9" fill="none"/>
<path d="M209.7 1097.9L219.7 1074.9L209.7 1080.4L199.7 1074.9Z" fill="#0b6fb8"/>
<path d="M251.2 994.4L335.79 1078.99" stroke="#b3b5b4" stroke-width="2.4" fill="none" stroke-dasharray="11.96 11.96" stroke-dashoffset="5.98"/>
<path d="M347.1 1090.3L338.08 1067.5L335.43 1078.63L324.3 1081.28Z" fill="#b3b5b4"/>
<path d="M177.7 1130.6L124.4 1130.6" stroke="#e50012" stroke-width="2.5" fill="none"/>
<path d="M110.4 1130.6L129.1 1138.3L124.9 1130.6L129.1 1122.9Z" fill="#e50012"/>
<path d="M244.7 1131L298.8 1131" stroke="#0b6fb8" stroke-width="2.5" fill="none"/>
<path d="M312.8 1131L294.1 1123.3L298.3 1131L294.1 1138.7Z" fill="#0b6fb8"/>
<path d="M42.3 1165.1L170.94 1385.68" stroke="#b3b5b4" stroke-width="2.4" fill="none" stroke-dasharray="12.77 12.77" stroke-dashoffset="6.38"/>
<path d="M179 1399.5L176.09 1375.15L170.69 1385.25L159.24 1384.98Z" fill="#b3b5b4"/>
<path d="M188.2 1155.8C116.5 1257.3 118.6 1279.1 189.54 1382.41" stroke="#b3b5b4" stroke-width="2.4" fill="none" stroke-dasharray="12.71 12.71" stroke-dashoffset="6.36"/>
<path d="M198.6 1395.6L193.9 1371.53L189.26 1382L177.83 1382.57Z" fill="#b3b5b4"/>
<path d="M210.6 1191.2L210.6 1247.5" stroke="#b3b5b4" stroke-width="2.4" fill="none" stroke-dasharray="14.07 14.07" stroke-dashoffset="7.04"/>
<path d="M210.6 1260.5L221.6 1241L210.6 1247L199.6 1241Z" fill="#b3b5b4"/>
<path d="M112.3 1155Q200.7 1192 310.12 1158.32" stroke="#e50012" stroke-width="2.5" fill="none"/>
<path d="M323.5 1154.2L303.36 1152.34L309.64 1158.47L307.89 1167.06Z" fill="#e50012"/>
<path d="M72.8 1177.9L157.34 1268.37" stroke="#0b6fb8" stroke-width="2.5" fill="none"/>
<path d="M166.9 1278.6L159.76 1259.68L157 1268.01L148.51 1270.19Z" fill="#0b6fb8"/>
<path d="M356.5 1181.3L266.7 1271.1" stroke="#0b6fb8" stroke-width="2.5" fill="none"/>
<path d="M256.8 1281L275.47 1273.22L267.05 1270.75L264.58 1262.33Z" fill="#0b6fb8"/>
<path d="M382.5 1162.3L263.26 1391.38" stroke="#0b6fb8" stroke-width="2.5" fill="none"/>
<path d="M256.8 1403.8L272.26 1390.77L263.49 1390.94L258.6 1383.66Z" fill="#0b6fb8"/>
<rect x="171.4" y="1261.4" width="75.6" height="36.8" rx="15.5" ry="15.5" fill="#804f21"/>
<text x="174.2" y="1287.4" font-size="20.5" fill="#fff">NatExt</text>
<path d="M210.5 1312.2L210.5 1381.9" stroke="#0b6fb8" stroke-width="2.5" fill="none"/>
<path d="M210.5 1395.9L218.2 1377.2L210.5 1381.4L202.8 1377.2Z" fill="#0b6fb8"/>
<rect x="173.1" y="1402.2" width="75.9" height="36.5" rx="15.5" ry="15.5" fill="#80308d"/>
<text x="176.2" y="1428.05" font-size="20.5" fill="#fff">InvExt</text>
<circle cx="209.3" cy="1129.5" r="25" fill="#9b817d"/>
<text x="209.3" y="1140.24" font-size="30" fill="#fff" text-anchor="middle">C</text>
<use href="#dna" transform="translate(196.8 967.7) scale(1)"/>
<use href="#map" transform="translate(17.1 1114.3) scale(1)"/>
<use href="#money" transform="translate(325.4 1105.5) scale(1)"/>
<text x="232.2" y="1059.1" font-size="18" fill="#0b6fb8" text-anchor="middle" dominant-baseline="central">0.20</text>
<text x="147.7" y="1118.8" font-size="18" fill="#e50012" text-anchor="middle" dominant-baseline="central">-0.17</text>
<text x="269.5" y="1116.9" font-size="18" fill="#0b6fb8" text-anchor="middle" dominant-baseline="central">0.24</text>
<text x="206.7" y="1164.5" font-size="18" fill="#e50012" text-anchor="middle" dominant-baseline="central">-0.07</text>
<text x="119.9" y="1210.2" font-size="18" fill="#0b6fb8" text-anchor="middle" dominant-baseline="central" transform="rotate(45 119.9 1210.2)">0.08</text>
<text x="322.7" y="1234.9" font-size="18" fill="#0b6fb8" text-anchor="middle" dominant-baseline="central" transform="rotate(-45 322.7 1234.9)">0.36</text>
<text x="335.7" y="1300.4" font-size="18" fill="#0b6fb8" text-anchor="middle" dominant-baseline="central">0.13</text>
<text x="39.2" y="1273.7" font-size="18" fill="#e50012" text-anchor="middle" dominant-baseline="central">-0.09</text>
<text x="236" y="1340.3" font-size="18" fill="#0b6fb8" text-anchor="middle" dominant-baseline="central">0.50</text>
<rect x="410.3" y="944.1" width="22" height="22" fill="#000"/>
<text x="421.3" y="961.7" font-size="19.5" fill="#fff" text-anchor="middle">h</text>
<path d="M557.2 972.7L410.7 972.7L410.7 1284.4L549.7 1284.4" stroke="#e50012" stroke-width="2.5" fill="none" stroke-linejoin="miter"/>
<path d="M563.7 1284.4L545 1276.7L549.2 1284.4L545 1292.1Z" fill="#e50012"/>
<path d="M642.4 969.6L790.1 969.6" stroke="#b3b5b4" stroke-width="2.4" fill="none" stroke-dasharray="12.31 12.31" stroke-dashoffset="6.15"/>
<path d="M790.1 969.6L781.7 1422.5" stroke="#b3b5b4" stroke-width="2.4" fill="none" stroke-dasharray="12.58 12.58" stroke-dashoffset="6.29"/>
<path d="M781.7 1422.5L665.3 1422.5" stroke="#b3b5b4" stroke-width="2.4" fill="none" stroke-dasharray="11.64 11.64" stroke-dashoffset="5.82"/>
<path d="M649.3 1422.5L671.8 1432.25L665.8 1422.5L671.8 1412.75Z" fill="#b3b5b4"/>
<path d="M563.9 993.8L477.71 1079.99" stroke="#b3b5b4" stroke-width="2.4" fill="none" stroke-dasharray="12.19 12.19" stroke-dashoffset="6.09"/>
<path d="M466.4 1091.3L489.2 1082.28L478.07 1079.63L475.42 1068.5Z" fill="#b3b5b4"/>
<path d="M606.7 1031.3L606.7 1081.9" stroke="#b3b5b4" stroke-width="2.4" fill="none" stroke-dasharray="12.65 12.65" stroke-dashoffset="6.33"/>
<path d="M606.7 1097.9L616.45 1075.4L606.7 1081.4L596.95 1075.4Z" fill="#b3b5b4"/>
<path d="M641.7 994.4L726.29 1078.99" stroke="#b3b5b4" stroke-width="2.4" fill="none" stroke-dasharray="11.96 11.96" stroke-dashoffset="5.98"/>
<path d="M737.6 1090.3L728.58 1067.5L725.93 1078.63L714.8 1081.28Z" fill="#b3b5b4"/>
<path d="M575.8 1130.3L523.3 1130.3" stroke="#b3b5b4" stroke-width="2.4" fill="none" stroke-dasharray="13.12 13.12" stroke-dashoffset="6.56"/>
<path d="M507.3 1130.3L529.8 1140.05L523.8 1130.3L529.8 1120.55Z" fill="#b3b5b4"/>
<path d="M640.5 1130.6L693 1130.6" stroke="#b3b5b4" stroke-width="2.4" fill="none" stroke-dasharray="13.12 13.12" stroke-dashoffset="6.56"/>
<path d="M709 1130.6L686.5 1120.85L692.5 1130.6L686.5 1140.35Z" fill="#b3b5b4"/>
<path d="M432.3 1165.1L559.98 1385.46" stroke="#b3b5b4" stroke-width="2.4" fill="none" stroke-dasharray="12.73 12.73" stroke-dashoffset="6.37"/>
<path d="M568 1399.3L565.16 1374.94L559.73 1385.02L548.28 1384.72Z" fill="#b3b5b4"/>
<path d="M582.5 1151.5C507.4 1259.5 508.6 1278.1 580.61 1382.43" stroke="#b3b5b4" stroke-width="2.4" fill="none" stroke-dasharray="11.8 11.8" stroke-dashoffset="5.9"/>
<path d="M589.7 1395.6L584.94 1371.54L580.33 1382.02L568.89 1382.62Z" fill="#b3b5b4"/>
<path d="M509.2 1153.9Q596 1189.55 707.33 1158.02" stroke="#e50012" stroke-width="2.5" fill="none"/>
<path d="M720.8 1154.2L700.71 1151.89L706.85 1158.15L704.91 1166.7Z" fill="#e50012"/>
<path d="M606.6 1183.5L606.6 1237.5" stroke="#e50012" stroke-width="2.5" fill="none"/>
<path d="M606.6 1251.5L614.3 1232.8L606.6 1237L598.9 1232.8Z" fill="#e50012"/>
<path d="M469.3 1177.8L554.31 1268.3" stroke="#0b6fb8" stroke-width="2.5" fill="none"/>
<path d="M563.9 1278.5L556.71 1259.6L553.97 1267.93L545.48 1270.14Z" fill="#0b6fb8"/>
<path d="M752.8 1181.6L664.14 1269.54" stroke="#0b6fb8" stroke-width="2.5" fill="none"/>
<path d="M654.2 1279.4L672.9 1271.7L664.49 1269.19L662.05 1260.76Z" fill="#0b6fb8"/>
<path d="M777.9 1162.6L659.56 1389.98" stroke="#0b6fb8" stroke-width="2.5" fill="none"/>
<path d="M653.1 1402.4L668.56 1389.37L659.79 1389.54L654.9 1382.26Z" fill="#0b6fb8"/>
<rect x="569.4" y="1261.4" width="75.3" height="36.9" rx="15.5" ry="15.5" fill="#804f21"/>
<text x="573.9" y="1287.45" font-size="20.5" fill="#fff">NatExt</text>
<path d="M610.1 1312.2L610.1 1381.9" stroke="#0b6fb8" stroke-width="2.5" fill="none"/>
<path d="M610.1 1395.9L617.8 1377.2L610.1 1381.4L602.4 1377.2Z" fill="#0b6fb8"/>
<rect x="571.3" y="1402.2" width="75.5" height="36.4" rx="15.5" ry="15.5" fill="#80308d"/>
<text x="575.9" y="1428" font-size="20.5" fill="#fff">InvExt</text>
<circle cx="608.6" cy="1127.6" r="25" fill="#9b817d"/>
<text x="608.6" y="1138.34" font-size="30" fill="#fff" text-anchor="middle">S</text>
<use href="#dna" transform="translate(597.7 968) scale(1)"/>
<use href="#map" transform="translate(415.2 1114.3) scale(1)"/>
<use href="#money" transform="translate(722.7 1105.5) scale(1)"/>
<text x="602.9" y="1165.3" font-size="18" fill="#e50012" text-anchor="middle" dominant-baseline="central">-0.11</text>
<text x="505.8" y="1199.5" font-size="18" fill="#0b6fb8" text-anchor="middle" dominant-baseline="central" transform="rotate(45 505.8 1199.5)">0.08</text>
<text x="632.9" y="1217" font-size="18" fill="#e50012" text-anchor="middle" dominant-baseline="central">-0.15</text>
<text x="719.7" y="1234.9" font-size="18" fill="#0b6fb8" text-anchor="middle" dominant-baseline="central" transform="rotate(-45 719.7 1234.9)">0.36</text>
<text x="730" y="1300.4" font-size="18" fill="#0b6fb8" text-anchor="middle" dominant-baseline="central">0.14</text>
<text x="444.9" y="1273.7" font-size="18" fill="#e50012" text-anchor="middle" dominant-baseline="central">-0.09</text>
<text x="636" y="1340.3" font-size="18" fill="#0b6fb8" text-anchor="middle" dominant-baseline="central">0.50</text>
<rect x="805.1" y="941.6" width="22" height="22" fill="#000"/>
<text x="816.1" y="959.2" font-size="19.5" fill="#fff" text-anchor="middle">i</text>
<path d="M953.2 973.1L806.3 973.1" stroke="#b3b5b4" stroke-width="2.4" fill="none" stroke-dasharray="12.24 12.24" stroke-dashoffset="6.12"/>
<path d="M806.3 973.1L806.3 1284.4" stroke="#b3b5b4" stroke-width="2.4" fill="none" stroke-dasharray="11.97 11.97" stroke-dashoffset="5.99"/>
<path d="M806.3 1284.4L942.9 1284.4" stroke="#b3b5b4" stroke-width="2.4" fill="none" stroke-dasharray="11.38 11.38" stroke-dashoffset="5.69"/>
<path d="M958.9 1284.4L936.4 1274.65L942.4 1284.4L936.4 1294.15Z" fill="#b3b5b4"/>
<path d="M1038.4 969.6L1186.1 969.6" stroke="#b3b5b4" stroke-width="2.4" fill="none" stroke-dasharray="12.31 12.31" stroke-dashoffset="6.15"/>
<path d="M1186.1 969.6L1177.7 1422.5" stroke="#b3b5b4" stroke-width="2.4" fill="none" stroke-dasharray="12.58 12.58" stroke-dashoffset="6.29"/>
<path d="M1177.7 1422.5L1061.3 1422.5" stroke="#b3b5b4" stroke-width="2.4" fill="none" stroke-dasharray="11.64 11.64" stroke-dashoffset="5.82"/>
<path d="M1045.3 1422.5L1067.8 1432.25L1061.8 1422.5L1067.8 1412.75Z" fill="#b3b5b4"/>
<path d="M962.3 988.7L876.92 1073.99" stroke="#b3b5b4" stroke-width="2.4" fill="none" stroke-dasharray="12.07 12.07" stroke-dashoffset="6.03"/>
<path d="M865.6 1085.3L888.41 1076.3L877.27 1073.64L874.63 1062.5Z" fill="#b3b5b4"/>
<path d="M1004.6 1024.8L1004.6 1078.2" stroke="#e50012" stroke-width="2.5" fill="none"/>
<path d="M1004.6 1092.2L1012.3 1073.5L1004.6 1077.7L996.9 1073.5Z" fill="#e50012"/>
<path d="M1040.7 994.4L1125.29 1078.99" stroke="#b3b5b4" stroke-width="2.4" fill="none" stroke-dasharray="11.96 11.96" stroke-dashoffset="5.98"/>
<path d="M1136.6 1090.3L1127.58 1067.5L1124.93 1078.63L1113.8 1081.28Z" fill="#b3b5b4"/>
<path d="M972.2 1124.5L919.2 1124.5" stroke="#0b6fb8" stroke-width="2.5" fill="none"/>
<path d="M905.2 1124.5L923.9 1132.2L919.7 1124.5L923.9 1116.8Z" fill="#0b6fb8"/>
<path d="M1039.6 1125.3L1094.1 1125.3" stroke="#e50012" stroke-width="2.5" fill="none"/>
<path d="M1108.1 1125.3L1089.4 1117.6L1093.6 1125.3L1089.4 1133Z" fill="#e50012"/>
<path d="M833.9 1165.1L959.85 1383.31" stroke="#b3b5b4" stroke-width="3.0" fill="none" stroke-dasharray="12.6 12.6" stroke-dashoffset="6.3"/>
<path d="M969.6 1400.2L968.93 1371.03L959.6 1382.88L944.68 1385.03Z" fill="#b3b5b4"/>
<path d="M907.1 1149.3Q993.9 1184.3 1105.22 1153.08" stroke="#e50012" stroke-width="2.5" fill="none"/>
<path d="M1118.7 1149.3L1098.62 1146.94L1104.74 1153.22L1102.77 1161.76Z" fill="#e50012"/>
<path d="M978.9 1145.2C899.3 1246.7 907.4 1271.9 982.76 1383.4" stroke="#e50012" stroke-width="2.5" fill="none"/>
<path d="M990.6 1395L986.51 1375.2L982.48 1382.99L973.75 1383.82Z" fill="#e50012"/>
<path d="M1005.3 1179.7L1005.3 1241.5" stroke="#0b6fb8" stroke-width="2.5" fill="none"/>
<path d="M1005.3 1255.5L1013 1236.8L1005.3 1241L997.6 1236.8Z" fill="#0b6fb8"/>
<path d="M861.8 1170.7L947.33 1262.08" stroke="#0b6fb8" stroke-width="2.5" fill="none"/>
<path d="M956.9 1272.3L949.74 1253.39L946.99 1261.71L938.5 1263.91Z" fill="#0b6fb8"/>
<path d="M1146.1 1172.9L1057.13 1261.24" stroke="#0b6fb8" stroke-width="2.5" fill="none"/>
<path d="M1047.2 1271.1L1065.9 1263.39L1057.49 1260.88L1055.04 1252.46Z" fill="#0b6fb8"/>
<path d="M1170.9 1162.6L1052.85 1389.97" stroke="#0b6fb8" stroke-width="2.5" fill="none"/>
<path d="M1046.4 1402.4L1061.85 1389.35L1053.08 1389.53L1048.18 1382.26Z" fill="#0b6fb8"/>
<rect x="965.4" y="1261.4" width="75.3" height="36.9" rx="15.5" ry="15.5" fill="#804f21"/>
<text x="969.5" y="1287.45" font-size="20.5" fill="#fff">NatExt</text>
<path d="M1006.1 1312.2L1006.1 1381.9" stroke="#0b6fb8" stroke-width="2.5" fill="none"/>
<path d="M1006.1 1395.9L1013.8 1377.2L1006.1 1381.4L998.4 1377.2Z" fill="#0b6fb8"/>
<rect x="967.3" y="1402.2" width="75.5" height="36.4" rx="15.5" ry="15.5" fill="#80308d"/>
<text x="971.9" y="1428" font-size="20.5" fill="#fff">InvExt</text>
<circle cx="1004.2" cy="1122.6" r="25" fill="#9b817d"/>
<text x="1004.2" y="1133.34" font-size="30" fill="#fff" text-anchor="middle">R</text>
<use href="#dna" transform="translate(989.1 967.8) scale(1)"/>
<use href="#map" transform="translate(812 1114.3) scale(1)"/>
<use href="#money" transform="translate(1117.6 1105.5) scale(1)"/>
<text x="1031.2" y="1052.2" font-size="18" fill="#e50012" text-anchor="middle" dominant-baseline="central">-0.17</text>
<text x="945.6" y="1115" font-size="18" fill="#0b6fb8" text-anchor="middle" dominant-baseline="central">0.21</text>
<text x="1062.4" y="1113.9" font-size="18" fill="#e50012" text-anchor="middle" dominant-baseline="central">-0.28</text>
<text x="1002.7" y="1159.9" font-size="18" fill="#e50012" text-anchor="middle" dominant-baseline="central">-0.07</text>
<text x="904.5" y="1202.6" font-size="18" fill="#0b6fb8" text-anchor="middle" dominant-baseline="central" transform="rotate(45 904.5 1202.6)">0.06</text>
<text x="1028.9" y="1213.2" font-size="18" fill="#0b6fb8" text-anchor="middle" dominant-baseline="central">0.24</text>
<text x="1113.8" y="1226.2" font-size="18" fill="#0b6fb8" text-anchor="middle" dominant-baseline="central" transform="rotate(-45 1113.8 1226.2)">0.39</text>
<text x="1123.3" y="1300.4" font-size="18" fill="#0b6fb8" text-anchor="middle" dominant-baseline="central">0.11</text>
<text x="971.1" y="1328.9" font-size="18" fill="#e50012" text-anchor="middle" dominant-baseline="central">-0.10</text>
<text x="1027" y="1340.3" font-size="18" fill="#0b6fb8" text-anchor="middle" dominant-baseline="central">0.50</text>
</svg>
</body></html>
